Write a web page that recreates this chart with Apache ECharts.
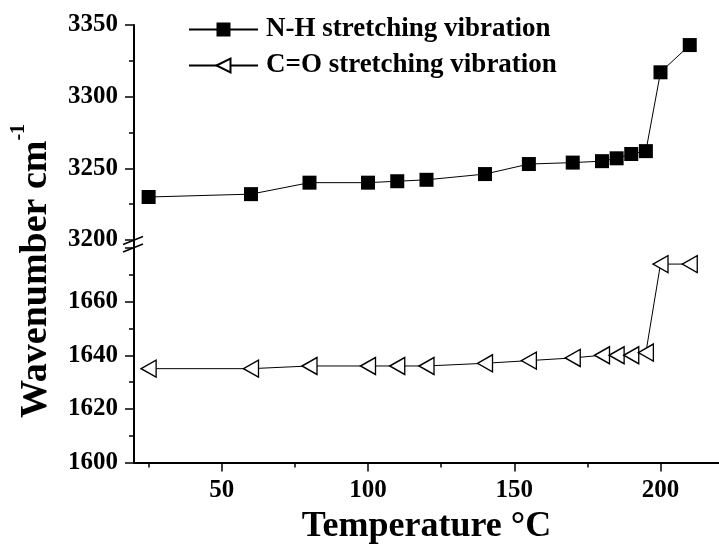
<!DOCTYPE html>
<html>
<head>
<meta charset="utf-8">
<script src="https://cdn.jsdelivr.net/npm/echarts@6/dist/echarts.min.js"></script>
<style>
  html, body { margin: 0; padding: 0; background: #ffffff; }
  #main { width: 719px; height: 556px; }
</style>
</head>
<body>
<div id="main"></div>
<script>
// Heating temperatures (°C)
const temperatures = [25, 60, 80, 100, 110, 120, 140, 155, 170, 180, 185, 190, 195, 200, 210];
// N-H stretching band position (cm-1)
const nhWavenumbers = [3230, 3232, 3240, 3240, 3241, 3242, 3246, 3253, 3254, 3255, 3257, 3260, 3262, 3317, 3336];
// C=O stretching band position (cm-1)
const coWavenumbers = [1635, 1635, 1636, 1636, 1636, 1636, 1637, 1638, 1639, 1640, 1640, 1640, 1641, 1674, 1674];

const seriesNames = ['N-H stretching vibration', 'C=O stretching vibration'];
const xMajorTicks = [50, 100, 150, 200];
const xMinorTicks = [25, 75, 125, 175];

const FONT = "'Liberation Serif', 'Times New Roman', serif";
const INK = '#000000';

const pairs = (xs, ys) => xs.map((x, i) => [x, ys[i]]);
const plain = (v) => String(v);

const chart = echarts.init(document.getElementById('main'), null, { renderer: 'canvas' });

const yAxisCommon = {
  type: 'value',
  axisLine: { show: true, lineStyle: { color: INK, width: 2 } },
  axisTick: { show: true, inside: false, length: 9, lineStyle: { color: INK, width: 1.5 } },
  minorTick: { show: true, splitNumber: 2, length: 5, lineStyle: { color: INK, width: 1.5 } },
  axisLabel: { color: INK, fontFamily: FONT, fontWeight: 'bold', fontSize: 25, margin: 16, formatter: plain },
  splitLine: { show: false }
};

const xRange = { type: 'value', min: 20, max: 220, position: 'bottom' };

chart.setOption({
  animation: false,
  backgroundColor: '#ffffff',
  grid: [
    { left: 134, right: -10, top: 25, height: 215 },
    { left: 134, right: -10, top: 248, bottom: 93.5 }
  ],
  xAxis: [
    Object.assign({ gridIndex: 0, show: false }, xRange),
    Object.assign({
      gridIndex: 1,
      axisLine: { show: true, lineStyle: { color: INK, width: 2 } },
      axisTick: { show: true, length: 5, customValues: xMinorTicks, lineStyle: { color: INK, width: 1.5 } },
      axisLabel: { show: false },
      splitLine: { show: false }
    }, xRange),
    Object.assign({
      gridIndex: 1,
      axisLine: { show: false },
      axisTick: { show: true, length: 9, customValues: xMajorTicks, lineStyle: { color: INK, width: 1.5 } },
      axisLabel: {
        customValues: xMajorTicks,
        color: INK, fontFamily: FONT, fontWeight: 'bold', fontSize: 25, margin: 16, formatter: plain
      },
      splitLine: { show: false },
      name: 'Temperature °C',
      nameLocation: 'middle',
      nameGap: 46,
      nameTextStyle: { color: INK, fontFamily: FONT, fontWeight: 'bold', fontSize: 36 }
    }, xRange)
  ],
  yAxis: [
    Object.assign({}, yAxisCommon, { gridIndex: 0, min: 3200, max: 3350, interval: 50 }),
    Object.assign({}, yAxisCommon, {
      gridIndex: 1, min: 1600, max: 1680, interval: 20,
      axisLabel: Object.assign({}, yAxisCommon.axisLabel, { showMaxLabel: false })
    })
  ],
  legend: {
    orient: 'vertical',
    left: 183,
    top: 11,
    itemWidth: 69,
    itemHeight: 17.5,
    itemGap: 9,
    data: seriesNames,
    textStyle: {
      color: INK, fontFamily: FONT, fontWeight: 'bold', fontSize: 27,
      lineHeight: 27, padding: [0, 0, 0, 3]
    }
  },
  series: [
    {
      name: seriesNames[0],
      type: 'line',
      xAxisIndex: 0,
      yAxisIndex: 0,
      data: pairs(temperatures, nhWavenumbers),
      symbol: 'rect',
      symbolSize: 14,
      itemStyle: { color: INK },
      lineStyle: { color: INK, width: 1 },
      z: 3
    },
    {
      name: seriesNames[1],
      type: 'line',
      xAxisIndex: 1,
      yAxisIndex: 1,
      data: pairs(temperatures, coWavenumbers),
      symbol: 'triangle',
      symbolRotate: 90,
      symbolSize: [17, 15],
      itemStyle: { color: '#ffffff', borderColor: INK, borderWidth: 1.4 },
      lineStyle: { color: INK, width: 1 },
      z: 3
    }
  ]
});

// Axis break marks and the rotated y title, placed from the axis scales.
const yUpperBottom = chart.convertToPixel({ yAxisIndex: 0 }, 3200);
const yLowerTop = chart.convertToPixel({ yAxisIndex: 1 }, 1680);
const axisX = chart.convertToPixel({ xAxisIndex: 1 }, 20);

function slash(cy) {
  return {
    type: 'line',
    shape: { x1: axisX - 11, y1: cy + 4, x2: axisX + 9, y2: cy - 4 },
    style: { stroke: INK, lineWidth: 1.5 },
    z: 10
  };
}

chart.setOption({
  graphic: [
    {
      type: 'line',
      shape: { x1: axisX, y1: yUpperBottom, x2: axisX, y2: yLowerTop },
      style: { stroke: INK, lineWidth: 2 },
      z: 10
    },
    slash(yUpperBottom + 0.5),
    slash(yLowerTop),
    {
      type: 'text',
      x: 32,
      y: 271,
      rotation: Math.PI / 2,
      z: 10,
      style: {
        text: '{a|Wavenumber cm}{b|-1}',
        align: 'center',
        verticalAlign: 'middle',
        fill: INK,
        rich: {
          a: { fontFamily: FONT, fontWeight: 'bold', fontSize: 38, lineHeight: 46, padding: [8, 0, 0, 0], verticalAlign: 'bottom' },
          b: { fontFamily: FONT, fontWeight: 'bold', fontSize: 20, lineHeight: 20, verticalAlign: 'top' }
        }
      }
    }
  ]
});
</script>
</body>
</html>
